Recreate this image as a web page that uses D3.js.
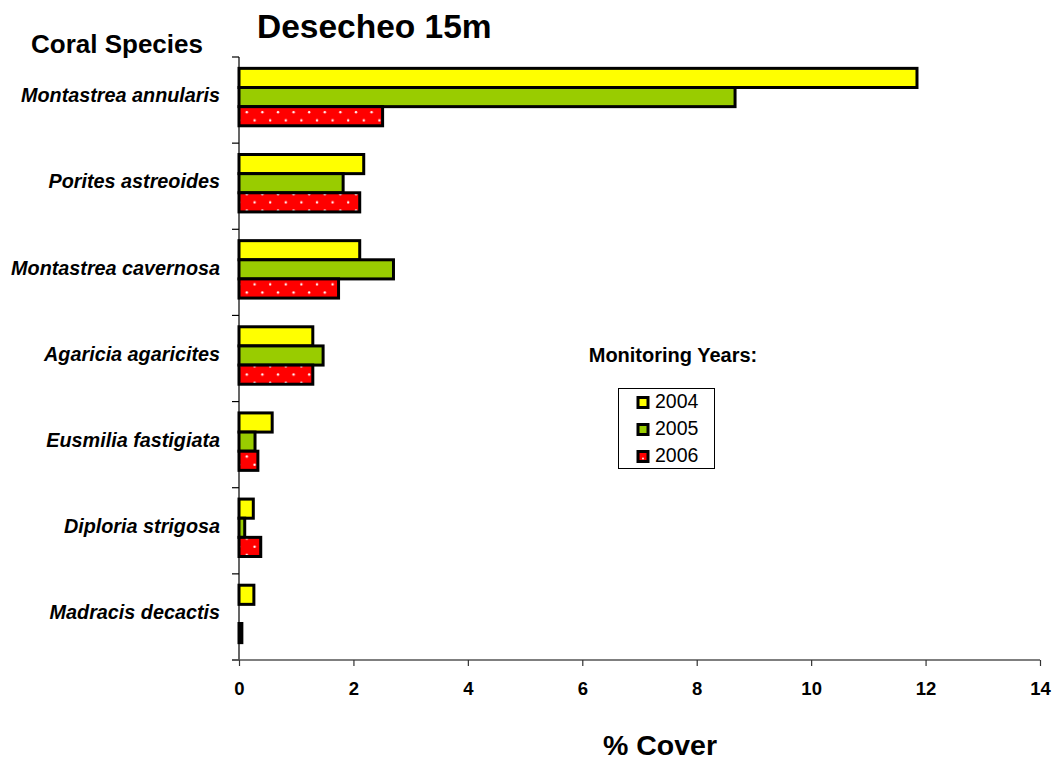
<!DOCTYPE html>
<html>
<head>
<meta charset="utf-8">
<script src="https://cdn.jsdelivr.net/npm/d3@7"></script>
<style>
  body { margin: 0; background: #fff; }
  svg { display: block; font-family: "Liberation Sans", Arial, sans-serif; }
</style>
</head>
<body>
<svg id="chart" width="1056" height="760"></svg>
<script>
// Coral species (top to bottom) and % cover per monitoring year
const species = [
  "Montastrea annularis",
  "Porites astreoides",
  "Montastrea cavernosa",
  "Agaricia agaricites",
  "Eusmilia fastigiata",
  "Diploria strigosa",
  "Madracis decactis"
];
const years = ["2004", "2005", "2006"];
const cover2004 = [11.85, 2.18, 2.11, 1.29, 0.58, 0.25, 0.26];
const cover2005 = [8.67, 1.82, 2.70, 1.47, 0.28, 0.10, 0];
const cover2006 = [2.51, 2.11, 1.74, 1.29, 0.33, 0.38, 0.05];
const xTicks = [0, 2, 4, 6, 8, 10, 12, 14];

const seriesValues = [cover2004, cover2005, cover2006];
const fills = ["#FFFF00", "#99CC00", "url(#dots)"];

const svg = d3.select("#chart");
const margin = { left: 239, right: 16, top: 57, bottom: 100 };
const W = 1056, H = 760;

// Dotted red fill used for 2006
const defs = svg.append("defs");
const pat = defs.append("pattern")
  .attr("id", "dots")
  .attr("patternUnits", "userSpaceOnUse")
  .attr("width", 15.6).attr("height", 16.4);
pat.append("rect").attr("width", 15.6).attr("height", 16.4).attr("fill", "#FF0000");
pat.append("circle").attr("cx", 5).attr("cy", 5.5).attr("r", 1.2).attr("fill", "#fff");
pat.append("circle").attr("cx", 12.8).attr("cy", 13.7).attr("r", 1.2).attr("fill", "#fff");

const x = d3.scaleLinear().domain([0, 14]).range([margin.left, 1040]);
const y = d3.scaleBand().domain(species).range([margin.top, H - margin.bottom]);
// Clustered bars: gap of half a bar on each side of the group
const inner = d3.scaleBand().domain(years)
  .range([0, y.bandwidth()])
  .paddingOuter(0.75).paddingInner(0);

// Bars
years.forEach((yr, i) => {
  svg.append("g").selectAll("rect")
    .data(species.map((s, j) => ({ s, v: seriesValues[i][j] })).filter(d => d.v > 0))
    .join("rect")
    .attr("x", x(0))
    .attr("y", d => y(d.s) + inner(yr) - 3)
    .attr("width", d => x(d.v) - x(0))
    .attr("height", inner.bandwidth())
    .attr("fill", d => (i === 2 && d.v < 0.1) ? "#B00000" : fills[i])
    .attr("stroke", "#000")
    .attr("stroke-width", 3)
    .attr("stroke-linejoin", "miter");
});

// Y axis with ticks between categories
const yAxisG = svg.append("g");
yAxisG.append("line")
  .attr("x1", x(0)).attr("x2", x(0))
  .attr("y1", margin.top).attr("y2", H - margin.bottom)
  .attr("stroke", "#000").attr("stroke-width", 1.2);
const bounds = species.map(s => y(s)).concat([H - margin.bottom]);
yAxisG.selectAll("line.tk").data(bounds).join("line")
  .attr("class", "tk")
  .attr("x1", x(0) - 7).attr("x2", x(0))
  .attr("y1", d => d).attr("y2", d => d)
  .attr("stroke", "#000").attr("stroke-width", 1.2);
yAxisG.selectAll("text").data(species).join("text")
  .attr("x", 220)
  .attr("y", d => y(d) + y.bandwidth() / 2 - 3)
  .attr("text-anchor", "end")
  .attr("dominant-baseline", "middle")
  .attr("font-size", 19.8)
  .attr("font-weight", "bold")
  .attr("font-style", "italic")
  .text(d => d);

// X axis
const xAxis = d3.axisBottom(x).tickValues(xTicks).tickSize(6).tickPadding(16).tickFormat(d3.format("d"));
const xg = svg.append("g")
  .attr("transform", `translate(0,${H - margin.bottom})`)
  .call(xAxis);
xg.select(".domain").attr("stroke", "#555").attr("stroke-width", 1.5).attr("d", `M${x(0) - 7},0H1040`);
xg.selectAll(".tick line").attr("stroke", "#333").attr("stroke-width", 1.2);
xg.selectAll(".tick text")
  .attr("font-size", 18.5)
  .attr("font-weight", "bold")
  .attr("font-family", "Liberation Sans, Arial, sans-serif")
  .attr("fill", "#000");

// Titles
svg.append("text").attr("x", 257).attr("y", 38)
  .attr("font-size", 33.5).attr("font-weight", "bold").text("Desecheo 15m");
svg.append("text").attr("x", 31).attr("y", 53)
  .attr("font-size", 26).attr("font-weight", "bold").text("Coral Species");
svg.append("text").attr("x", 660).attr("y", 755)
  .attr("text-anchor", "middle")
  .attr("font-size", 28.5).attr("font-weight", "bold").text("% Cover");

// Legend
svg.append("text").attr("x", 673).attr("y", 362)
  .attr("text-anchor", "middle")
  .attr("font-size", 20).attr("font-weight", "bold").text("Monitoring Years:");
svg.append("rect").attr("x", 618.5).attr("y", 388.5).attr("width", 96).attr("height", 80)
  .attr("fill", "#fff").attr("stroke", "#000").attr("stroke-width", 1);
const legFills = ["#FFFF00", "#99CC00", "#FF0000"];
const lg = svg.append("g").selectAll("g").data(years).join("g")
  .attr("transform", (d, i) => `translate(638,${397.5 + i * 27})`);
lg.append("rect").attr("width", 10).attr("height", 10)
  .attr("fill", (d, i) => legFills[i])
  .attr("stroke", "#000").attr("stroke-width", 3);
lg.filter((d, i) => i === 2).append("circle")
  .attr("cx", 5).attr("cy", 7).attr("r", 0.9).attr("fill", "#fff");
lg.append("text").attr("x", 17).attr("y", 5)
  .attr("dominant-baseline", "middle")
  .attr("font-size", 19.5).text(d => d);
</script>
</body>
</html>
